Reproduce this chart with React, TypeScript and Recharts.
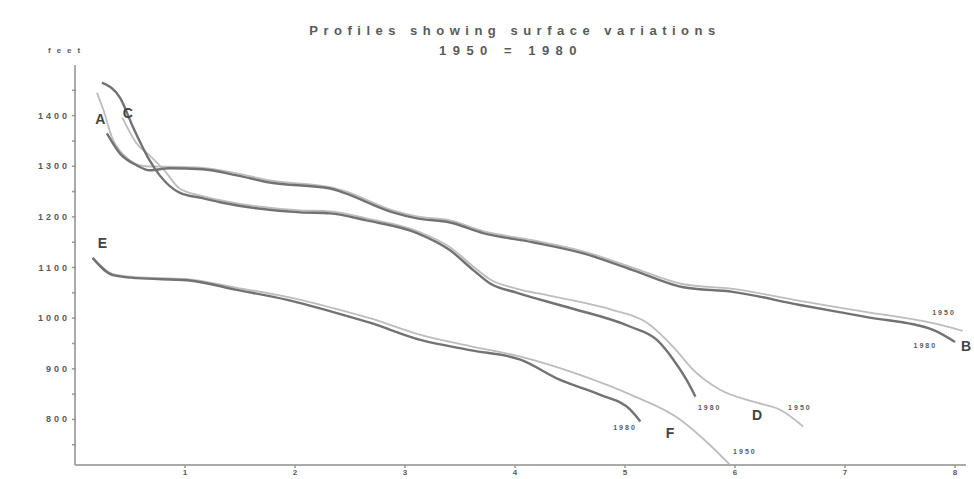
import React from 'react';
import { LineChart, Line, XAxis, YAxis, ReferenceDot } from 'recharts';

// Profile A-B
const profileAB1980 = [
  { x: 0.29, y: 1365 }, { x: 0.41, y: 1325 }, { x: 0.56, y: 1302 }, { x: 0.68, y: 1292 },
  { x: 0.86, y: 1296 }, { x: 1.16, y: 1294 }, { x: 1.47, y: 1282 }, { x: 1.77, y: 1268 },
  { x: 2.32, y: 1256 }, { x: 2.44, y: 1248 }, { x: 2.89, y: 1209 }, { x: 3.11, y: 1197 },
  { x: 3.41, y: 1189 }, { x: 3.71, y: 1168 }, { x: 4.16, y: 1150 }, { x: 4.62, y: 1128 },
  { x: 5.07, y: 1095 }, { x: 5.53, y: 1061 }, { x: 5.98, y: 1052 }, { x: 6.59, y: 1026 },
  { x: 7.2, y: 1002 }, { x: 7.8, y: 977 }, { x: 8.0, y: 953 },
];
const profileAB1950 = [
  { x: 0.2, y: 1445 }, { x: 0.26, y: 1410 }, { x: 0.34, y: 1355 }, { x: 0.45, y: 1321 },
  { x: 0.64, y: 1300 }, { x: 0.86, y: 1299 }, { x: 1.16, y: 1297 }, { x: 1.47, y: 1286 },
  { x: 1.77, y: 1272 }, { x: 2.32, y: 1259 }, { x: 2.44, y: 1252 }, { x: 2.89, y: 1213 },
  { x: 3.11, y: 1201 }, { x: 3.41, y: 1193 }, { x: 3.71, y: 1172 }, { x: 4.16, y: 1154 },
  { x: 4.62, y: 1132 }, { x: 5.07, y: 1100 }, { x: 5.53, y: 1067 }, { x: 5.98, y: 1058 },
  { x: 6.59, y: 1034 }, { x: 7.2, y: 1012 }, { x: 7.8, y: 990 }, { x: 8.07, y: 975 },
];

// Profile C-D
const profileCD1980 = [
  { x: 0.245, y: 1465 }, { x: 0.41, y: 1435 }, { x: 0.53, y: 1376 }, { x: 0.68, y: 1311 },
  { x: 0.77, y: 1282 }, { x: 0.95, y: 1248 }, { x: 1.16, y: 1237 }, { x: 1.32, y: 1229 },
  { x: 2.05, y: 1209 }, { x: 2.32, y: 1207 }, { x: 2.65, y: 1193 }, { x: 3.11, y: 1168 },
  { x: 3.41, y: 1134 }, { x: 3.62, y: 1095 }, { x: 3.77, y: 1069 }, { x: 4.02, y: 1050 },
  { x: 4.47, y: 1022 }, { x: 5.05, y: 983 }, { x: 5.29, y: 957 }, { x: 5.44, y: 918 },
  { x: 5.56, y: 878 }, { x: 5.64, y: 845 },
];
const profileCD1950 = [
  { x: 0.43, y: 1396 }, { x: 0.56, y: 1345 }, { x: 0.68, y: 1321 }, { x: 0.82, y: 1290 },
  { x: 0.95, y: 1256 }, { x: 1.16, y: 1241 }, { x: 1.32, y: 1233 }, { x: 2.05, y: 1213 },
  { x: 2.32, y: 1211 }, { x: 2.65, y: 1197 }, { x: 3.11, y: 1172 }, { x: 3.41, y: 1140 },
  { x: 3.62, y: 1102 }, { x: 3.77, y: 1077 }, { x: 4.02, y: 1058 }, { x: 4.3, y: 1045 },
  { x: 4.59, y: 1032 }, { x: 4.89, y: 1016 }, { x: 5.2, y: 991 }, { x: 5.44, y: 943 },
  { x: 5.62, y: 898 }, { x: 5.86, y: 859 }, { x: 6.2, y: 833 }, { x: 6.41, y: 819 },
  { x: 6.62, y: 786 },
];

// Profile E-F
const profileEF1980 = [
  { x: 0.16, y: 1119 }, { x: 0.345, y: 1085 }, { x: 0.56, y: 1079 }, { x: 1.02, y: 1075 },
  { x: 1.47, y: 1056 }, { x: 1.93, y: 1036 }, { x: 2.38, y: 1010 }, { x: 2.68, y: 991 },
  { x: 3.14, y: 957 }, { x: 3.59, y: 937 }, { x: 4.05, y: 918 }, { x: 4.41, y: 878 },
  { x: 4.77, y: 849 }, { x: 5.05, y: 819 }, { x: 5.14, y: 796 },
];
const profileEF1950 = [
  { x: 0.16, y: 1119 }, { x: 0.345, y: 1087 }, { x: 0.56, y: 1081 }, { x: 1.02, y: 1077 },
  { x: 1.47, y: 1060 }, { x: 1.93, y: 1042 }, { x: 2.38, y: 1018 }, { x: 2.68, y: 1000 },
  { x: 3.14, y: 967 }, { x: 3.59, y: 945 }, { x: 4.05, y: 924 }, { x: 4.59, y: 888 },
  { x: 5.05, y: 849 }, { x: 5.5, y: 800 }, { x: 5.77, y: 750 }, { x: 5.95, y: 711 },
];

// annotations on the curves
const annotations = [
  { text: 'A', x: 0.23, y: 1394, big: true },
  { text: 'C', x: 0.48, y: 1406, big: true },
  { text: 'E', x: 0.25, y: 1148, big: true },
  { text: 'B', x: 8.1, y: 945, big: true },
  { text: 'D', x: 6.2, y: 809, big: true },
  { text: 'F', x: 5.41, y: 774, big: true },
  { text: '1950', x: 7.9, y: 1012, big: false },
  { text: '1980', x: 7.73, y: 947, big: false },
  { text: '1980', x: 5.77, y: 823, big: false },
  { text: '1950', x: 6.59, y: 823, big: false },
  { text: '1980', x: 5.0, y: 784, big: false },
  { text: '1950', x: 6.09, y: 737, big: false },
];

const yTicks = [750, 800, 850, 900, 950, 1000, 1050, 1100, 1150, 1200, 1250, 1300, 1350, 1400, 1450];
const xTicks = [1, 2, 3, 4, 5, 6, 7, 8];

const DARK = '#727272';
const LIGHT = '#bdbdbd';
const TEXT = '#5a5a5a';

const YTick = ({ x, y, payload }: any) => {
  const major = payload.value % 100 === 0;
  return (
    <g>
      <line x1={x + 1} x2={x + 5} y1={y} y2={y} stroke="#999" strokeWidth={1.5} />
      {major && (
        <text x={x - 1} y={y} textAnchor="end" dominantBaseline="central"
          fontSize={9} letterSpacing={3} fill={TEXT} fontFamily="Liberation Sans" fontWeight="bold">
          {payload.value}
        </text>
      )}
    </g>
  );
};

const NoteLabel = ({ viewBox, value, big }: any) => (
  <text x={viewBox.x} y={viewBox.y} textAnchor="middle" dominantBaseline="central"
    fontSize={big ? 14 : 7} letterSpacing={big ? 0 : 2} fontWeight="bold"
    fill={big ? '#444' : TEXT} fontFamily="Liberation Sans">
    {value}
  </text>
);

const App = () => {
  const series = [
    { data: profileAB1950, color: LIGHT, w: 1.8 },
    { data: profileCD1950, color: LIGHT, w: 1.8 },
    { data: profileEF1950, color: LIGHT, w: 1.8 },
    { data: profileAB1980, color: DARK, w: 2.4 },
    { data: profileCD1980, color: DARK, w: 2.4 },
    { data: profileEF1980, color: DARK, w: 2.4 },
  ];
  return (
    <div style={{ position: 'absolute', left: 0, top: 0, width: 974, height: 479, overflow: 'hidden', background: '#fff', fontFamily: 'Liberation Sans' }}>
      <div style={{ position: 'absolute', left: 0, width: 1030, top: 23, textAlign: 'center', fontSize: 13, letterSpacing: 5.5, color: TEXT, fontWeight: 'bold' }}>
        Profiles showing surface variations
      </div>
      <div style={{ position: 'absolute', left: 0, width: 1022, top: 43, textAlign: 'center', fontSize: 13, letterSpacing: 6.5, color: TEXT, fontWeight: 'bold' }}>
        1950 = 1980
      </div>
      <div style={{ position: 'absolute', left: 48, top: 46, fontSize: 8, letterSpacing: 6, color: TEXT, fontWeight: 'bold' }}>
        feet
      </div>
      <LineChart width={974} height={479} margin={{ top: 65, right: 8, bottom: 0, left: 0 }}>
        <XAxis dataKey="x" type="number" domain={[0, 8.1]} ticks={xTicks} allowDataOverflow
          axisLine={{ stroke: '#aaa', strokeWidth: 2 }} tickLine={{ stroke: '#999', strokeWidth: 1.5 }}
          tickSize={3} tickMargin={1} height={14}
          tick={{ fontSize: 8, fill: TEXT, fontWeight: 'bold' }} />
        <YAxis dataKey="y" type="number" domain={[710, 1500]} ticks={yTicks} width={75}
          axisLine={{ stroke: '#aaa', strokeWidth: 2 }} tickLine={false} tickSize={0} tickMargin={4}
          tick={<YTick />} />
        {series.map((s, i) => (
          <Line key={i} data={s.data} dataKey="y" type="monotone" stroke={s.color}
            strokeWidth={s.w} dot={false} isAnimationActive={false} />
        ))}
        {annotations.map((a, i) => (
          <ReferenceDot key={i} x={a.x} y={a.y} r={0} ifOverflow="visible"
            label={<NoteLabel value={a.text} big={a.big} />} />
        ))}
      </LineChart>
    </div>
  );
};

export default App;
